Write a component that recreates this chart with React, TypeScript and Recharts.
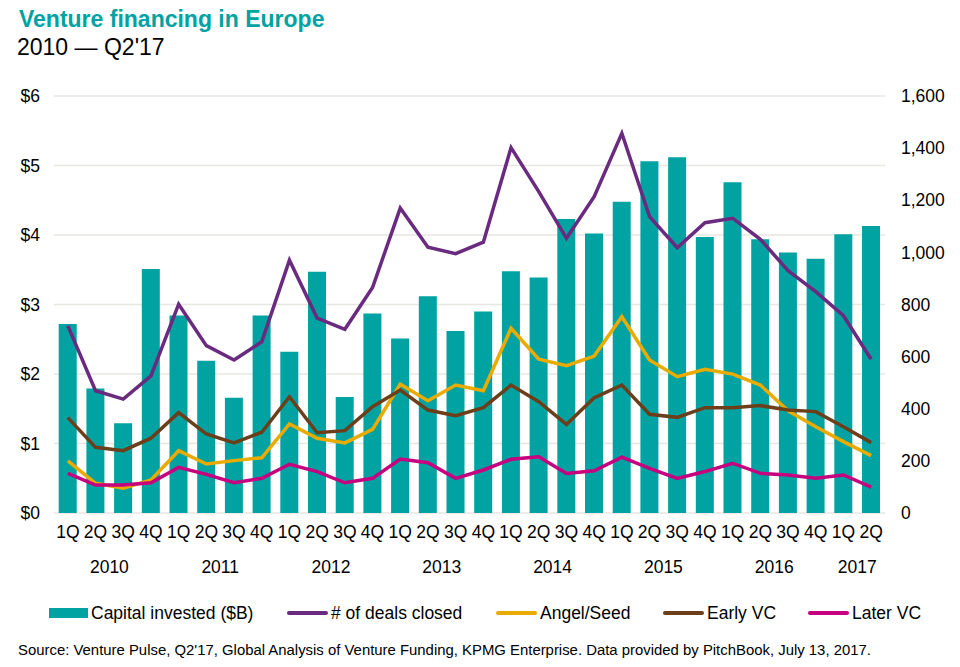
import { ComposedChart, Bar, Line, XAxis, YAxis, CartesianGrid } from "recharts";

const quarters = [
	"1Q", "2Q", "3Q", "4Q", "1Q", "2Q", "3Q", "4Q", "1Q", "2Q", "3Q", "4Q", "1Q", "2Q", "3Q",
	"4Q", "1Q", "2Q", "3Q", "4Q", "1Q", "2Q", "3Q", "4Q", "1Q", "2Q", "3Q", "4Q", "1Q", "2Q",
];
const years = [
	"2010", "2010", "2010", "2010", "2011", "2011", "2011", "2011", "2012", "2012", "2012", "2012",
	"2013", "2013", "2013", "2013", "2014", "2014", "2014", "2014", "2015", "2015", "2015", "2015",
	"2016", "2016", "2016", "2016", "2017", "2017",
];

// capital invested, $B (left axis)
const capital = [
	2.72, 1.79, 1.29, 3.51, 2.84, 2.19, 1.66, 2.84, 2.32, 3.47, 1.67, 2.87, 2.51, 3.12, 2.62,
	2.9, 3.48, 3.39, 4.23, 4.02, 4.48, 5.06, 5.12, 3.97, 4.76, 3.94, 3.75, 3.66, 4.01, 4.13,
];
// deal counts (right axis)
const deals = [
	718, 469, 437, 526, 801, 642, 587, 657, 970, 748, 705, 865, 1170, 1020, 995,
	1039, 1402, 1233, 1054, 1214, 1457, 1137, 1018, 1114, 1131, 1050, 930, 849, 757, 590,
];
const angelSeed = [
	200, 114, 95, 127, 239, 188, 201, 212, 342, 287, 269, 321, 494, 431, 491,
	469, 709, 590, 565, 602, 753, 587, 523, 551, 533, 491, 392, 331, 274, 220,
];
const earlyVC = [
	366, 252, 239, 287, 385, 303, 269, 310, 446, 308, 316, 408, 472, 395, 373,
	404, 491, 427, 340, 442, 491, 379, 367, 404, 404, 412, 395, 389, 331, 270,
];
const laterVC = [
	152, 107, 107, 116, 175, 148, 116, 133, 187, 159, 116, 133, 207, 193, 133,
	165, 206, 216, 152, 162, 214, 171, 133, 159, 191, 152, 146, 133, 146, 99,
];

const leftTicks = [0, 1, 2, 3, 4, 5, 6];
const rightTicks = [0, 200, 400, 600, 800, 1000, 1200, 1400, 1600];

const data = quarters.map((q, i) => ({
	quarter: q,
	year: years[i],
	capital: capital[i],
	deals: deals[i],
	angelSeed: angelSeed[i],
	earlyVC: earlyVC[i],
	laterVC: laterVC[i],
}));

const FONT = "'Liberation Sans', Arial, sans-serif";
const TEAL = "#00A3A1";
const PURPLE = "#6A2A80";
const YELLOW = "#EAAA00";
const BROWN = "#6D3E1A";
const MAGENTA = "#C6007E";

const BAND = 831 / 30;
const TICK_FONT = 17.5;
const LINE_W = 3.5;

const YearTick = (props: any) => {
	const { x, y, payload } = props;
	const i = payload.index;
	if (i > 0 && years[i - 1] === years[i]) return <g />;
	const n = years.filter((yr) => yr === years[i]).length;
	return (
		<text x={x + ((n - 1) / 2) * BAND} y={y + 30} textAnchor="middle" fill="#000" fontSize={TICK_FONT} fontFamily={FONT}>
			{years[i]}
		</text>
	);
};

const legendItems = [
	{ label: "Capital invested ($B)", color: TEAL, box: true, x: 49 },
	{ label: "# of deals closed", color: PURPLE, box: false, x: 287 },
	{ label: "Angel/Seed", color: YELLOW, box: false, x: 496 },
	{ label: "Early VC", color: BROWN, box: false, x: 663 },
	{ label: "Later VC", color: MAGENTA, box: false, x: 808 },
];

const App = () => {
	return (
		<div
			style={{
				position: "absolute",
				left: 0,
				top: 0,
				width: 960,
				height: 667,
				background: "#fff",
				fontFamily: FONT,
			}}
		>
			<div style={{ position: "absolute", left: 19, top: 6, fontSize: 23, fontWeight: "bold", color: TEAL }}>
				Venture financing in Europe
			</div>
			<div style={{ position: "absolute", left: 17, top: 34, fontSize: 23, color: "#000" }}>2010 — Q2'17</div>
			<div style={{ position: "absolute", left: 0, top: 0 }}>
				<ComposedChart
					width={960}
					height={590}
					data={data}
					margin={{ top: 96, right: 0, left: 0, bottom: 0 }}
					barCategoryGap="17%"
				>
					<CartesianGrid yAxisId="left" vertical={false} stroke="#E8E6E0" strokeWidth={1.5} />
					<XAxis
						dataKey="quarter"
						interval={0}
						axisLine={false}
						tickLine={false}
						tickSize={0}
						tickMargin={13}
						height={30}
						tick={{ fill: "#000", fontSize: TICK_FONT, fontFamily: FONT }}
					/>
					<XAxis
						xAxisId="year"
						dataKey="quarter"
						interval={0}
						axisLine={false}
						tickLine={false}
						tickSize={0}
						tickMargin={0}
						height={47}
						tick={<YearTick />}
					/>
					<YAxis
						yAxisId="left"
						domain={[0, 6]}
						ticks={leftTicks}
						width={54}
						axisLine={false}
						tickLine={false}
						tickSize={0}
						tickMargin={14}
						tickFormatter={(v) => `$${v}`}
						tick={{ fill: "#000", fontSize: TICK_FONT, fontFamily: FONT }}
					/>
					<YAxis
						yAxisId="right"
						orientation="right"
						domain={[0, 1600]}
						ticks={rightTicks}
						width={75}
						axisLine={false}
						tickLine={false}
						tickSize={0}
						tickMargin={16}
						tickFormatter={(v) => v.toLocaleString("en-US")}
						tick={{ fill: "#000", fontSize: TICK_FONT, fontFamily: FONT }}
					/>
					<Bar yAxisId="left" dataKey="capital" fill={TEAL} isAnimationActive={false} />
					<Line yAxisId="right" dataKey="deals" stroke={PURPLE} strokeWidth={LINE_W} dot={false} isAnimationActive={false} />
					<Line yAxisId="right" dataKey="angelSeed" stroke={YELLOW} strokeWidth={LINE_W} dot={false} isAnimationActive={false} />
					<Line yAxisId="right" dataKey="earlyVC" stroke={BROWN} strokeWidth={LINE_W} dot={false} isAnimationActive={false} />
					<Line yAxisId="right" dataKey="laterVC" stroke={MAGENTA} strokeWidth={LINE_W} dot={false} isAnimationActive={false} />
				</ComposedChart>
			</div>
			{legendItems.map((item) => (
				<div
					key={item.label}
					style={{
						position: "absolute",
						left: item.x,
						top: 602,
						height: 22,
						display: "flex",
						alignItems: "center",
						fontSize: TICK_FONT,
						color: "#000",
						whiteSpace: "nowrap",
					}}
				>
					<span
						style={{
							display: "inline-block",
							width: item.box ? 39 : 41,
							height: item.box ? 10 : 4,
							background: item.color,
							marginRight: 3,
							borderRadius: item.box ? 0 : 2,
						}}
					/>
					{item.label}
				</div>
			))}
			<div style={{ position: "absolute", left: 18, top: 642, fontSize: 14.9, color: "#000", whiteSpace: "nowrap" }}>
				Source: Venture Pulse, Q2'17, Global Analysis of Venture Funding, KPMG Enterprise. Data provided by PitchBook, July 13, 2017.
			</div>
		</div>
	);
};

export default App;
